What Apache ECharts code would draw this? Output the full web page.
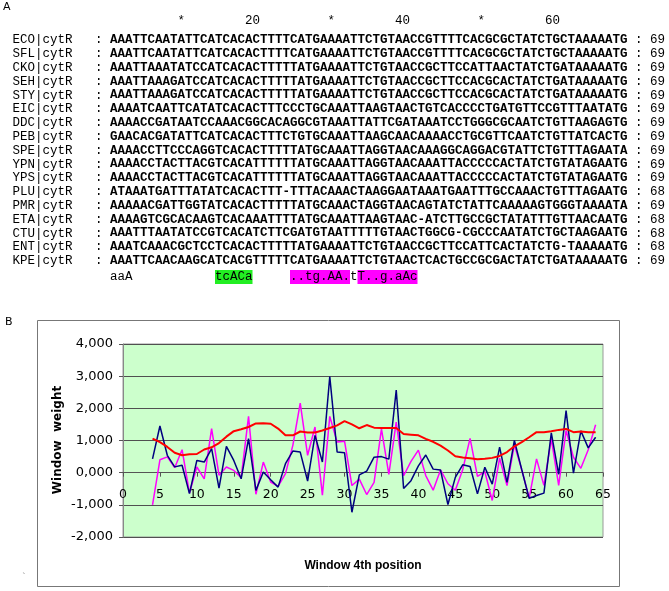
<!DOCTYPE html>
<html><head><meta charset="utf-8">
<script src="https://cdn.jsdelivr.net/npm/echarts@6/dist/echarts.min.js"></script>
<style>html,body{margin:0;padding:0;background:#fff}#c{width:669px;height:591px}</style>
</head><body><div id="c"></div>
<script>
// ---------- Panel A data ----------
const seqNames = ['ECO|cytR','SFL|cytR','CKO|cytR','SEH|cytR','STY|cytR','EIC|cytR','DDC|cytR','PEB|cytR','SPE|cytR','YPN|cytR','YPS|cytR','PLU|cytR','PMR|cytR','ETA|cytR','CTU|cytR','ENT|cytR','KPE|cytR'];
const sequences = [
'AAATTCAATATTCATCACACTTTTCATGAAAATTCTGTAACCGTTTTCACGCGCTATCTGCTAAAAATG',
'AAATTCAATATTCATCACACTTTTCATGAAAATTCTGTAACCGTTTTCACGCGCTATCTGCTAAAAATG',
'AAATTAAATATCCATCACACTTTTTATGAAAATTCTGTAACCGCTTCCATTAACTATCTGATAAAAATG',
'AAATTAAAGATCCATCACACTTTTTATGAAAATTCTGTAACCGCTTCCACGCACTATCTGATAAAAATG',
'AAATTAAAGATCCATCACACTTTTTATGAAAATTCTGTAACCGCTTCCACGCACTATCTGATAAAAATG',
'AAAATCAATTCATATCACACTTTCCCTGCAAATTAAGTAACTGTCACCCCTGATGTTCCGTTTAATATG',
'AAAACCGATAATCCAAACGGCACAGGCGTAAATTATTCGATAAATCCTGGGCGCAATCTGTTAAGAGTG',
'GAACACGATATTCATCACACTTTCTGTGCAAATTAAGCAACAAAACCTGCGTTCAATCTGTTATCACTG',
'AAAACCTTCCCAGGTCACACTTTTTATGCAAATTAGGTAACAAAGGCAGGACGTATTCTGTTTAGAATA',
'AAAACCTACTTACGTCACATTTTTTATGCAAATTAGGTAACAAATTACCCCCACTATCTGTATAGAATG',
'AAAACCTACTTACGTCACATTTTTTATGCAAATTAGGTAACAAATTACCCCCACTATCTGTATAGAATG',
'ATAAATGATTTATATCACACTTT-TTTACAAACTAAGGAATAAATGAATTTGCCAAACTGTTTAGAATG',
'AAAAACGATTGGTATCACACTTTTTATGCAAACTAGGTAACAGTATCTATTCAAAAAGTGGGTAAAATA',
'AAAAGTCGCACAAGTCACAAATTTTATGCAAATTAAGTAAC-ATCTTGCCGCTATATTTGTTAACAATG',
'AAATTTAATATCCGTCACATCTTCGATGTAATTTTTGTAACTGGCG-CGCCCAATATCTGCTAAGAATG',
'AAATCAAACGCTCCTCACACTTTTTATGAAAATTCTGTAACCGCTTCCATTCACTATCTG-TAAAAATG',
'AAATTCAACAAGCATCACGTTTTTCATGAAAATTCTGTAACTCACTGCCGCGACTATCTGATAAAAATG'
];
const seqLengths = [69,69,69,69,69,69,69,69,69,69,69,68,69,68,68,68,69];
const rulerCols = [10,20,30,40,50,60];
const rulerLabels = ['*','20','*','40','*','60'];
const consensus = 'aaA           tcACa     ..tg.AA.tT..g.aAc';
const greenBlocks = [[15,19]];
const magentaBlocks = [[25,32],[34,41]];

// ---------- Panel B data ----------
const windowPos = [4,5,6,7,8,9,10,11,12,13,14,15,16,17,18,19,20,21,22,23,24,25,26,27,28,29,30,31,32,33,34,35,36,37,38,39,40,41,42,43,44,45,46,47,48,49,50,51,52,53,54,55,56,57,58,59,60,61,62,63,64];
const navyWeight = [430,1450,540,180,230,-650,380,330,750,-480,820,380,-190,1060,-550,20,-220,-450,280,670,640,-260,1160,330,2990,640,620,-1230,-70,50,480,500,420,2570,-490,-250,210,550,110,80,-990,-145,245,190,-660,170,-355,795,-300,1000,90,-800,-710,-635,1240,-50,1930,-15,1300,770,1100];
const magentaWeight = [-1000,400,490,155,715,-630,176,-190,1370,-80,176,70,-155,1750,-670,330,-290,-425,-30,850,2165,540,1420,-700,1750,950,980,-400,-200,-680,-300,1360,-55,1570,-95,350,700,-90,-545,85,-345,-545,90,1065,-115,30,-865,450,-400,870,90,-790,430,-395,1050,-395,1310,480,135,715,1490];
const redWeight = [1060,950,800,620,540,570,580,720,790,920,1120,1290,1350,1420,1530,1540,1520,1370,1160,1160,1280,1250,1250,1310,1390,1470,1600,1500,1380,1480,1400,1390,1390,1390,1200,1180,1160,1050,960,840,690,510,470,450,420,430,460,520,640,820,950,1100,1260,1260,1290,1330,1360,1260,1280,1260,1260];
const yTicks = [-2000,-1000,0,1000,2000,3000,4000];

// ---------- layout constants ----------
const CW = 7.5, SEQ_X0 = 110, NAME_X = 12.5;
const ROW_Y0 = 40, ROW_DY = 13.8, CONS_Y = 277, RULER_Y = 21;
const MONO = '"Liberation Mono","Courier New",monospace';
const GRID = {left:123, top:344, width:480, height:193};

const graphic = [];
function colX(c){ return SEQ_X0 + (c - 1) * CW; }
graphic.push({type:'text', x:3, y:7, style:{text:'A', font:'11px "DejaVu Sans"', fill:'#000', textVerticalAlign:'middle'}});
rulerCols.forEach((c,i)=>{
  const t = rulerLabels[i];
  graphic.push({type:'text', x: colX(c) + CW - t.length*CW, y: RULER_Y, style:{text:t, font:'12.5px '+MONO, fill:'#000', textVerticalAlign:'middle'}});
});
seqNames.forEach((n,i)=>{
  const y = ROW_Y0 + i*ROW_DY;
  graphic.push({type:'text', x: NAME_X, y, style:{text:n, font:'12.5px '+MONO, fill:'#000', textVerticalAlign:'middle'}});
  graphic.push({type:'text', x: SEQ_X0 - 2*CW, y, style:{text:':', font:'12.5px '+MONO, fill:'#000', textVerticalAlign:'middle'}});
  graphic.push({type:'text', x: SEQ_X0, y, style:{text:sequences[i], font:'bold 12.5px '+MONO, fill:'#000', textVerticalAlign:'middle'}});
  graphic.push({type:'text', x: colX(71), y, style:{text:': '+seqLengths[i], font:'12.5px '+MONO, fill:'#000', textVerticalAlign:'middle'}});
});
greenBlocks.forEach(b=>graphic.push({type:'rect', z:0, shape:{x:colX(b[0]), y:CONS_Y-7, width:(b[1]-b[0]+1)*CW, height:14}, style:{fill:'#22ee22'}}));
magentaBlocks.forEach(b=>graphic.push({type:'rect', z:0, shape:{x:colX(b[0]), y:CONS_Y-7, width:(b[1]-b[0]+1)*CW, height:14}, style:{fill:'#ff00ff'}}));
graphic.push({type:'text', z:1, x: SEQ_X0, y: CONS_Y, style:{text:consensus, font:'12.5px '+MONO, fill:'#000', textVerticalAlign:'middle'}});

// Panel B frame & labels
graphic.push({type:'rect', shape:{x:37.5, y:320.5, width:582, height:266}, style:{fill:'none', stroke:'#777', lineWidth:1}});
graphic.push({type:'text', x:5, y:322, style:{text:'B', font:'11px "DejaVu Sans"', fill:'#000', textVerticalAlign:'middle'}});
graphic.push({type:'text', x:22, y:578, style:{text:'`', font:'9px "DejaVu Sans"', fill:'#888', textVerticalAlign:'middle'}});
graphic.push({type:'text', x:363, y:566, style:{text:'Window 4th position', font:'bold 12px "Liberation Sans"', fill:'#000', textAlign:'center', textVerticalAlign:'middle'}});
graphic.push({type:'text', x:58, y:440, rotation:Math.PI/2, style:{text:'Window  weight', font:'bold 12px "DejaVu Sans"', fill:'#000', textAlign:'center', textVerticalAlign:'middle'}});

function fmt(v){
  const a = Math.abs(v);
  const s = Math.floor(a/1000) + ',' + String(a%1000).padStart(3,'0');
  return (v<0?'-':'') + s;
}
function pairs(arr){ return windowPos.map((x,i)=>[x, arr[i]]); }

const yMin = yTicks[0], yMax = yTicks[yTicks.length-1];
// move the x axis up onto the zero line
const xOffset = -GRID.height * (0 - yMin) / (yMax - yMin);

const chart = echarts.init(document.getElementById('c'), null, {renderer:'canvas'});
chart.setOption({
  animation:false,
  backgroundColor:'#fff',
  graphic: graphic,
  grid:{left:GRID.left, top:GRID.top, width:GRID.width, height:GRID.height, show:true, backgroundColor:'#ccffcc', borderColor:'#999', borderWidth:1},
  xAxis:{type:'value', min:0, max:65, interval:5, offset:xOffset,
    axisLine:{show:true, onZero:false, lineStyle:{color:'#555', width:1}},
    axisTick:{show:true, length:4, lineStyle:{color:'#555'}},
    axisLabel:{margin:16, color:'#000', fontSize:12.5, fontFamily:'DejaVu Sans'},
    splitLine:{show:false}},
  yAxis:{type:'value', min:yMin, max:yMax, interval:1000,
    axisLine:{show:true, onZero:false, lineStyle:{color:'#888'}},
    axisTick:{show:true, length:4, lineStyle:{color:'#555'}},
    axisLabel:{margin:10, color:'#000', fontSize:13, fontFamily:'DejaVu Sans', formatter:fmt},
    splitLine:{show:true, lineStyle:{color:'#505050', width:1}}},
  series:[
    {type:'line', data:pairs(magentaWeight), symbol:'none', lineStyle:{color:'#ff00ff', width:1.5}, itemStyle:{color:'#ff00ff'}},
    {type:'line', data:pairs(navyWeight), symbol:'none', lineStyle:{color:'#000080', width:1.5}, itemStyle:{color:'#000080'}},
    {type:'line', data:pairs(redWeight), symbol:'none', lineStyle:{color:'#ff0000', width:2}, itemStyle:{color:'#ff0000'}}
  ]
});
</script></body></html>
